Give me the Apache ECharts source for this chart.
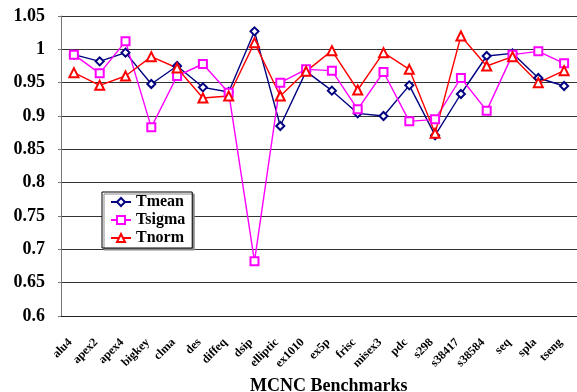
<!DOCTYPE html>
<html>
<head>
<meta charset="utf-8">
<script src="https://cdn.jsdelivr.net/npm/echarts@6/dist/echarts.min.js"></script>
<style>
html,body{margin:0;padding:0;background:#fff;}
#c{width:577px;height:392px;}
</style>
</head>
<body>
<div id="c"></div>
<script>
var categories = ['alu4','apex2','apex4','bigkey','clma','des','diffeq','dsip','elliptic','ex1010','ex5p','frisc','misex3','pdc','s298','s38417','s38584','seq','spla','tseng'];
var tmean  = [0.992,0.982,0.995,0.948,0.975,0.943,0.936,1.027,0.885,0.967,0.938,0.904,0.900,0.946,0.871,0.933,0.990,0.994,0.957,0.945];
var tsigma = [0.992,0.964,1.012,0.883,0.960,0.978,0.935,0.682,0.950,0.970,0.968,0.910,0.966,0.892,0.895,0.957,0.908,0.992,0.997,0.979];
var tnorm  = [0.965,0.946,0.960,0.989,0.972,0.927,0.930,1.010,0.930,0.967,0.998,0.939,0.995,0.970,0.874,1.020,0.975,0.989,0.950,0.968];
var yTicks = {min:0.6, max:1.05, step:0.05};

var font = 'Liberation Serif';
var chart = echarts.init(document.getElementById('c'));
function mk(name, data, color, symbol, size){
  return {
    name:name, type:'line', data:data, symbol:symbol, symbolSize:size,
    showAllSymbol:true, animation:false,
    lineStyle:{color:color, width:1.4},
    itemStyle:{color:color, borderColor:color, borderWidth:1.2}
  };
}
chart.setOption({
  animation:false,
  backgroundColor:'#fff',
  title:{
    text:'MCNC Benchmarks', left:245, top:372,
    textStyle:{fontFamily:font, fontWeight:'bold', fontSize:18, color:'#000'}
  },
  grid:{left:61, right:-1, top:16, bottom:76, containLabel:false},
  legend:{
    orient:'vertical', left:102, top:192,
    backgroundColor:'#fff', borderColor:'#000', borderWidth:1,
    shadowColor:'#888', shadowOffsetX:2, shadowOffsetY:2, shadowBlur:0,
    padding:[2,7,2,8], itemGap:2, itemWidth:20, itemHeight:10,
    textStyle:{fontFamily:font, fontWeight:'bold', fontSize:16, color:'#000'},
    data:['Tmean','Tsigma','Tnorm']
  },
  xAxis:{
    type:'category', data:categories, boundaryGap:true,
    axisLine:{lineStyle:{color:'#222', width:1}},
    axisTick:{inside:true, length:4, lineStyle:{color:'#555'}},
    axisLabel:{rotate:45, margin:21, interval:0, padding:[0,5,0,0],
      fontFamily:font, fontWeight:'bold', fontSize:12, color:'#000'}
  },
  yAxis:{
    type:'value', min:yTicks.min, max:yTicks.max, interval:yTicks.step,
    axisLine:{show:true, lineStyle:{color:'#777', width:1}},
    axisTick:{show:true, length:3, lineStyle:{color:'#777'}},
    splitLine:{lineStyle:{color:'#333', width:1}},
    axisLabel:{margin:16, fontFamily:font, fontWeight:'bold', fontSize:18, color:'#000'}
  },
  series:[
    mk('Tmean', tmean, '#000080', 'emptyDiamond', 8),
    mk('Tsigma', tsigma, '#ff00ff', 'emptyRect', 8),
    mk('Tnorm', tnorm, '#ff0000', 'emptyTriangle', 9)
  ]
});
</script>
</body>
</html>
